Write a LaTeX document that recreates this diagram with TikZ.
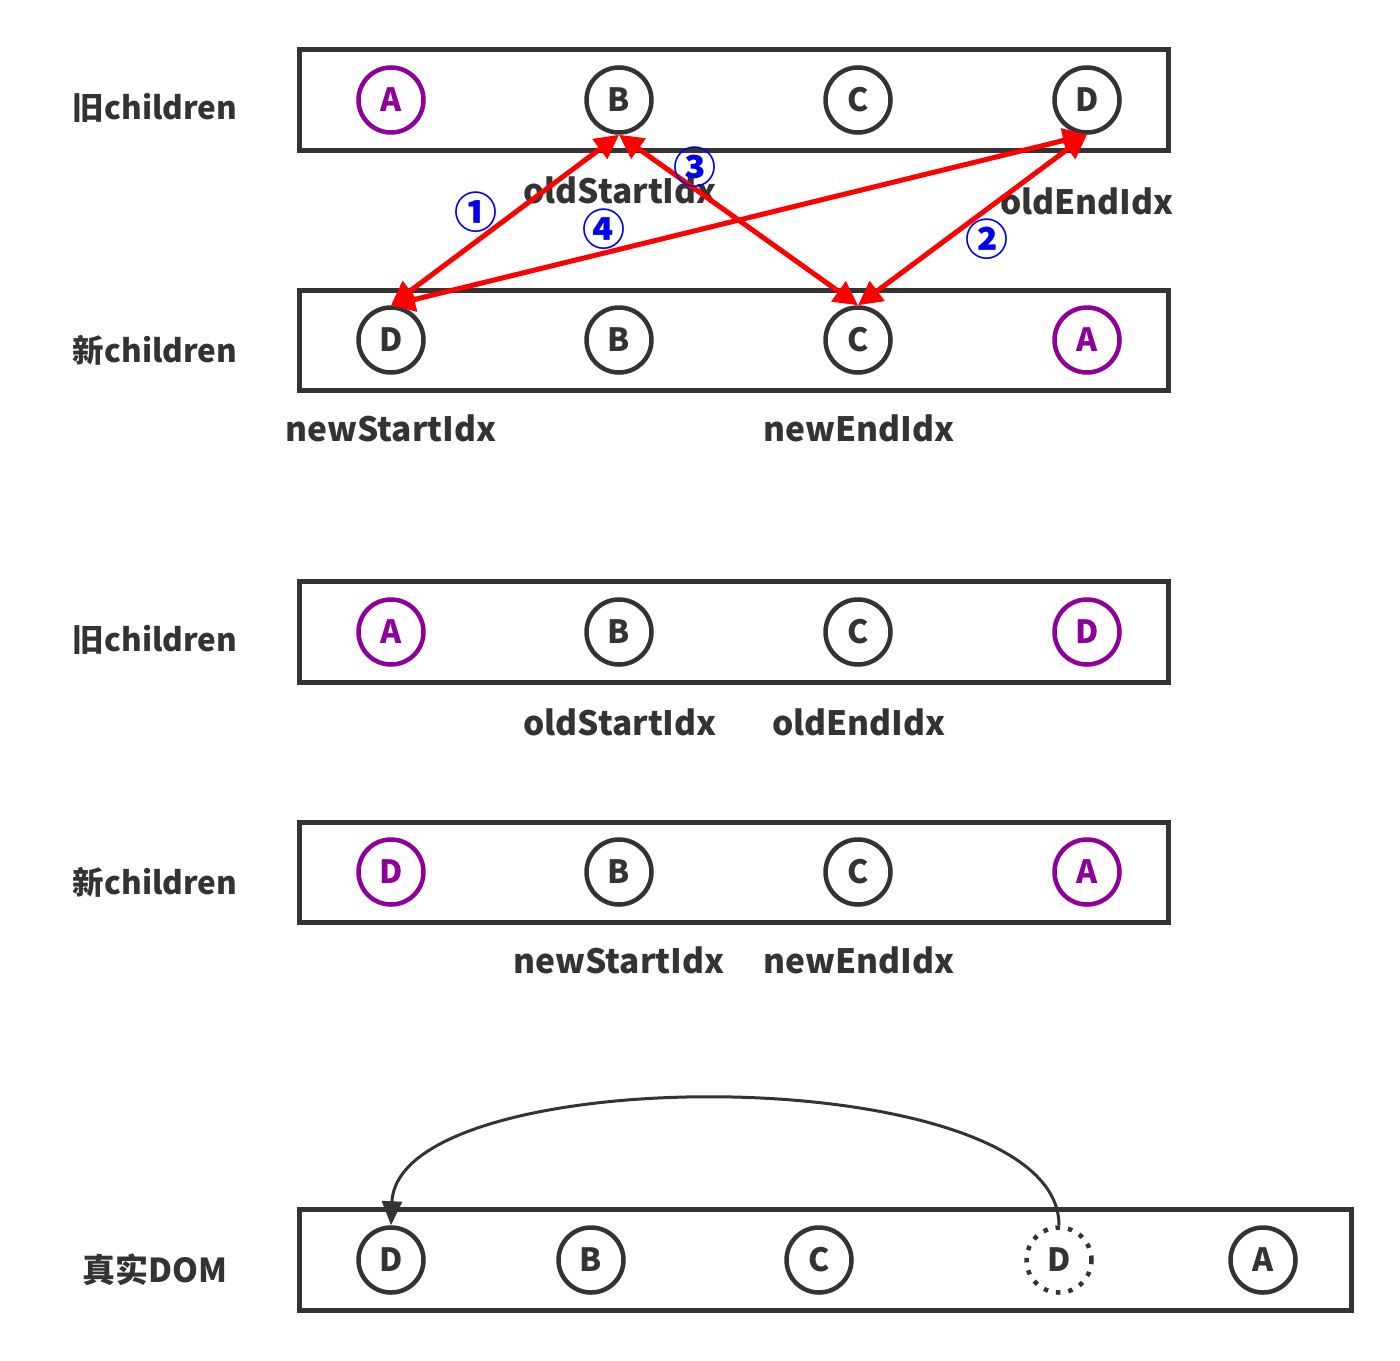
\documentclass[tikz,border=0pt]{standalone}
\usepackage{fontspec}
\setmainfont{Noto Sans CJK SC}
\usetikzlibrary{arrows.meta}
\definecolor{dk}{HTML}{333333}
\definecolor{pu}{HTML}{8E0099}
\definecolor{bl}{HTML}{0000EE}
\begin{document}
\begin{tikzpicture}[x=1pt,y=-1pt,
 box/.style={draw=dk,line width=5pt},
 nd/.style={circle,draw=dk,line width=4.5pt,minimum size=65pt,inner sep=0pt,text=dk,font=\fontsize{32}{32}\selectfont\bfseries},
 pnd/.style={nd,draw=pu,text=pu},
 dnd/.style={nd,dash pattern=on 4.5pt off 8pt},
 lbl/.style={text=dk,font=\fontsize{33.5}{34}\selectfont\bfseries,inner sep=0pt},
 side/.style={text=dk,font=\fontsize{31.5}{32}\selectfont\bfseries,inner sep=0pt},
 num/.style={text=bl,font=\fontsize{43}{43}\selectfont\bfseries,inner sep=0pt},
 rarr/.style={draw=red,line width=5pt,{Triangle[length=24pt,width=24pt]}-{Triangle[length=24pt,width=24pt]}},
 carr/.style={draw=dk,line width=3pt,-{Triangle[length=24pt,width=20pt]}}
]
\useasboundingbox (0,0) rectangle (1400,1360);
\fill[white] (0,0) rectangle (1400,1360);

% ---- section 1
\draw[box] (299,49) rectangle (1168,150);
\draw[box] (299,290) rectangle (1168,390);
\node[side] (l1) at (155,108) {旧children};
\node[side] (l2) at (155,350) {新children};
\node[pnd] (oa) at (391,100) {A};
\node[nd] (ob) at (619,100) {B};
\node[nd] (oc) at (858,100) {C};
\node[nd] (od) at (1087,100) {D};
\node[nd] (nd1) at (391,340) {D};
\node[nd] (nb) at (619,340) {B};
\node[nd] (nc) at (858,340) {C};
\node[pnd] (na) at (1087,340) {A};
\node[lbl] (osi) at (620,190) {oldStartIdx};
\node[lbl] (oei) at (1087,201) {oldEndIdx};
\node[lbl] (nsi) at (391,428) {newStartIdx};
\node[lbl] (nei) at (859,428) {newEndIdx};
\draw[rarr] (ob.south) -- (nd1.north);
\draw[rarr] (od.south) -- (nc.north);
\draw[rarr] (ob.south) -- (nc.north);
\draw[rarr] (od.south) -- (nd1.north);
\node[num] (n1) at (476,212) {①};
\node[num] (n2) at (987,239) {②};
\node[num] (n3) at (695,167) {③};
\node[num] (n4) at (604,229) {④};

% ---- section 2
\draw[box] (299,581) rectangle (1168,682);
\draw[box] (299,822) rectangle (1168,922);
\node[side] (l3) at (155,640) {旧children};
\node[side] (l4) at (155,882) {新children};
\node[pnd] (o2a) at (391,632) {A};
\node[nd] (o2b) at (619,632) {B};
\node[nd] (o2c) at (858,632) {C};
\node[pnd] (o2d) at (1087,632) {D};
\node[pnd] (n2d) at (391,872) {D};
\node[nd] (n2b) at (619,872) {B};
\node[nd] (n2c) at (858,872) {C};
\node[pnd] (n2a) at (1087,872) {A};
\node[lbl] (osi2) at (620,722) {oldStartIdx};
\node[lbl] (oei2) at (859,722) {oldEndIdx};
\node[lbl] (nsi2) at (619,960) {newStartIdx};
\node[lbl] (nei2) at (859,960) {newEndIdx};

% ---- section 3
\draw[box] (299,1209) rectangle (1351,1310);
\node[side,font=\fontsize{33}{33}\selectfont\bfseries] (l5) at (155,1270) {真实DOM};
\node[nd] (r1) at (391,1260) {D};
\node[nd] (r2) at (591,1260) {B};
\node[nd] (r3) at (819,1260) {C};
\node[dnd] (r4) at (1059,1260) {D};
\node[nd] (r5) at (1263,1260) {A};
\draw[carr] (r4.north) .. controls (1059,1058) and (398,1058) .. (r1.north);
\end{tikzpicture}
\end{document}
